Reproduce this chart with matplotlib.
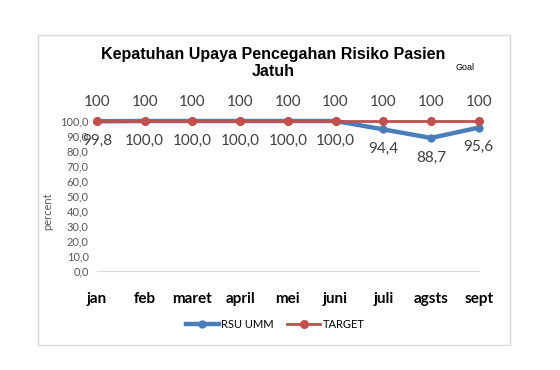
import matplotlib
matplotlib.use("Agg")
import matplotlib.pyplot as plt
from matplotlib.patches import Rectangle

months = ["jan", "feb", "maret", "april", "mei", "juni", "juli", "agsts", "sept"]
rsu_umm = [99.8, 100.0, 100.0, 100.0, 100.0, 100.0, 94.4, 88.7, 95.6]
target = [100, 100, 100, 100, 100, 100, 100, 100, 100]
yticks = [0, 10, 20, 30, 40, 50, 60, 70, 80, 90, 100]

blue = "#4A7EBB"
red = "#C0504D"
font = "Lato"

fig = plt.figure(figsize=(5.6, 3.7), dpi=100)
fig.patches.append(Rectangle((38/560, 1-345/370), (510-38)/560, (345-35)/370,
                             transform=fig.transFigure, fill=False,
                             edgecolor="#D9D9D9", linewidth=1))
ax = fig.add_axes([97/560, 1-271/370, (478.7-97)/560, (271-121)/370])
x = list(range(len(months)))
ax.plot(x, rsu_umm, color=blue, linewidth=3.2, marker="o", markersize=5,
        label="RSU UMM", clip_on=False, zorder=3)
ax.plot(x, target, color=red, linewidth=2, marker="o", markersize=5.5,
        label="TARGET", clip_on=False, zorder=4)
ax.set_xlim(0, len(months) - 1)
ax.set_ylim(0, 100)
ax.set_yticks(yticks)
ax.set_yticklabels([f"{v:.1f}".replace(".", ",") for v in yticks],
                   fontsize=8, color="#595959", family=font)
ax.set_xticks(x)
ax.set_xticklabels(months, fontsize=11, fontweight="bold", family=font)
ax.tick_params(axis="x", length=0, pad=15)
ax.tick_params(axis="y", length=0, pad=6)
for s in ["top", "right", "left"]:
    ax.spines[s].set_visible(False)
ax.spines["bottom"].set_color("#D9D9D9")
ax.set_ylabel("percent", fontsize=8, color="#595959", family=font, labelpad=4)
ax.yaxis.set_label_coords(-0.115, 0.4)

for xi, v in zip(x, target):
    ax.annotate(f"{v}", (xi, v), xytext=(0, 14), textcoords="offset points",
                ha="center", va="center", fontsize=11, color="#404040",
                family=font, annotation_clip=False)
for xi, v in zip(x, rsu_umm):
    ax.annotate(f"{v:.1f}".replace(".", ","), (xi, v), xytext=(0, -14),
                textcoords="offset points", ha="center", va="center",
                fontsize=11, color="#404040", family=font, annotation_clip=False)

fig.text(273/560, 1-63/370, "Kepatuhan Upaya Pencegahan Risiko Pasien\nJatuh",
         ha="center", va="center", fontsize=11.5, fontweight="bold",
         family="Liberation Sans", linespacing=1.15)
fig.text(465/560, 1-67/370, "Goal", ha="center", va="center", fontsize=6.5,
         family="Liberation Sans")

fig.legend(loc="center", bbox_to_anchor=(275/560, 1-324/370), ncol=2,
           frameon=False, prop={"family": font, "size": 8},
           handlelength=3, columnspacing=1.2, handletextpad=0.2)

fig.savefig("out.png", dpi=100)
